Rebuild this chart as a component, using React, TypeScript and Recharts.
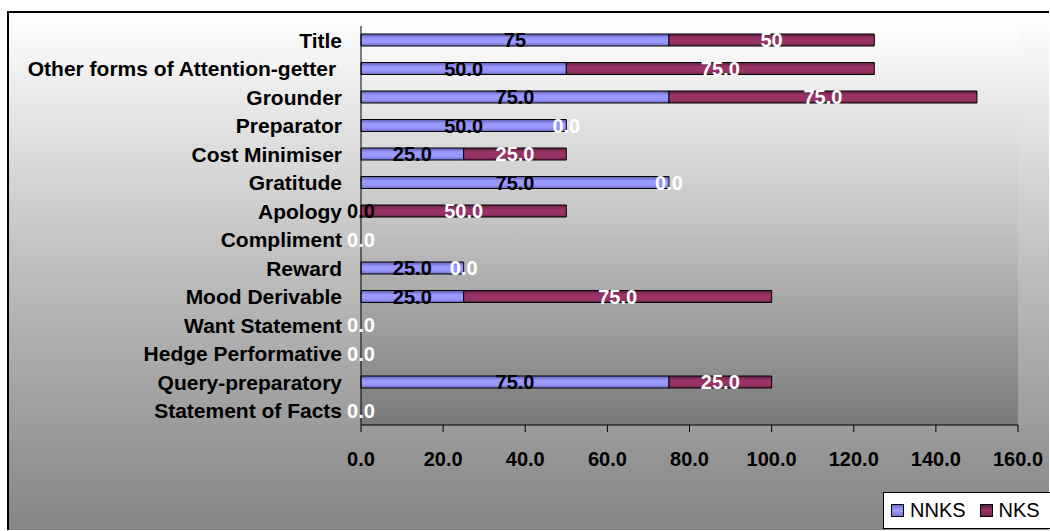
import React from "react";
import { BarChart, Bar, XAxis, YAxis, CartesianGrid, LabelList, ReferenceDot } from "recharts";

const categories = [
  "Title",
  "Other forms of Attention-getter ",
  "Grounder",
  "Preparator",
  "Cost Minimiser",
  "Gratitude",
  "Apology",
  "Compliment",
  "Reward",
  "Mood Derivable",
  "Want Statement",
  "Hedge Performative",
  "Query-preparatory",
  "Statement of Facts",
];
const nnksValues = [75, 50, 75, 50, 25, 75, 0, 0, 25, 25, 0, 0, 75, 0];
const nksValues = [50, 75, 75, 0, 25, 0, 50, 0, 0, 75, 0, 0, 25, 0];
const nnksLabelText = ["75", "50.0", "75.0", "50.0", "25.0", "75.0", "0.0", "0.0", "25.0", "25.0", "0.0", "0.0", "75.0", "0.0"];
const nksLabelText = ["50", "75.0", "75.0", "0.0", "25.0", "0.0", "50.0", "0.0", "0.0", "75.0", "0.0", "0.0", "25.0", "0.0"];
const seriesNames = ["NNKS", "NKS"];
const xTicks = [0, 20, 40, 60, 80, 100, 120, 140, 160];

const data = categories.map((c, i) => ({
  name: c,
  NNKS: nnksValues[i],
  NKS: nksValues[i],
  nnksLabel: nnksLabelText[i],
  nksLabel: nksLabelText[i],
}));

const FONT = "'Liberation Sans', Arial, sans-serif";
const LABEL_SIZE = 20;

const YTick = (props: any) => {
  const { x, y, payload } = props;
  return (
    <text
      x={x}
      y={y}
      dy="0.36em"
      textAnchor="end"
      fontFamily={FONT}
      fontWeight="bold"
      fontSize={21}
      fill="#000"
      style={{ whiteSpace: "pre" }}
    >
      {payload.value}
    </text>
  );
};

const XTick = (props: any) => {
  const { x, y, payload } = props;
  return (
    <text
      x={x}
      y={y}
      dy="0.71em"
      textAnchor="middle"
      fontFamily={FONT}
      fontWeight="bold"
      fontSize={20}
      fill="#000"
    >
      {Number(payload.value).toFixed(1)}
    </text>
  );
};

const colors = ["url(#gradBlue)", "url(#gradMaroon)"];
const legendSwatch = [
  "linear-gradient(#7070cc, #a0a0ff, #7777cc)",
  "linear-gradient(#5e1f3f, #993366, #6e2649)",
];

const zeroLabel = (text: string, fill: string) => ({
  value: text,
  position: "center" as const,
  fill,
  fontFamily: FONT,
  fontWeight: "bold",
  fontSize: LABEL_SIZE,
});

export default function App() {
  return (
    <div
      style={{
        position: "fixed",
        left: 7,
        top: 11,
        width: 1040,
        height: 517,
        border: "2px solid #000",
        borderRight: "none",
        borderBottom: "none",
        background: "linear-gradient(to bottom, #ffffff 0%, #bdbdbd 50%, #858585 100%)",
        fontFamily: FONT,
      }}
    >
      <div style={{ position: "absolute", left: 0, top: 0 }}>
        <BarChart
          width={1040}
          height={517}
          data={data}
          layout="vertical"
          margin={{ top: 13, right: 31, bottom: 65, left: 0 }}
          barCategoryGap={0}
          barSize={12}
        >
          <defs>
            <linearGradient id="plotGrad" x1="0" y1="0" x2="0" y2="1">
              <stop offset="0%" stopColor="#ffffff" />
              <stop offset="50%" stopColor="#c2c2c2" />
              <stop offset="100%" stopColor="#7a7a7a" />
            </linearGradient>
            <linearGradient id="gradBlue" x1="0" y1="0" x2="0" y2="1">
              <stop offset="0%" stopColor="#5c5cad" />
              <stop offset="35%" stopColor="#9999ff" />
              <stop offset="70%" stopColor="#9999ff" />
              <stop offset="100%" stopColor="#6b6bbf" />
            </linearGradient>
            <linearGradient id="gradMaroon" x1="0" y1="0" x2="0" y2="1">
              <stop offset="0%" stopColor="#5e1f3f" />
              <stop offset="35%" stopColor="#993366" />
              <stop offset="70%" stopColor="#993366" />
              <stop offset="100%" stopColor="#6e2649" />
            </linearGradient>
          </defs>
          <CartesianGrid horizontal={false} vertical={false} fill="url(#plotGrad)" stroke="none" />
          <XAxis
            type="number"
            domain={[0, 160]}
            ticks={xTicks}
            interval={0}
            axisLine={{ stroke: "#000", strokeWidth: 1 }}
            tickLine={{ stroke: "#000", strokeWidth: 1 }}
            tickSize={7}
            tickMargin={20}
            tick={<XTick />}
            height={40}
          />
          <YAxis
            type="category"
            dataKey="name"
            width={352}
            axisLine={{ stroke: "#000", strokeWidth: 1 }}
            tickLine={false}
            tickSize={0}
            tickMargin={19}
            interval={0}
            tick={<YTick />}
          />
          <Bar dataKey="NNKS" stackId="a" fill={colors[0]} stroke="#000" strokeWidth={1} isAnimationActive={false}>
            <LabelList
              dataKey="nnksLabel"
              position="center"
              fill="#000"
              fontFamily={FONT}
              fontWeight="bold"
              fontSize={LABEL_SIZE}
            />
          </Bar>
          <Bar dataKey="NKS" stackId="a" fill={colors[1]} stroke="#000" strokeWidth={1} isAnimationActive={false}>
            <LabelList
              dataKey="nksLabel"
              position="center"
              fill="#fff"
              fontFamily={FONT}
              fontWeight="bold"
              fontSize={LABEL_SIZE}
            />
          </Bar>
          {data.map((d, i) =>
            d.NNKS === 0 && d.NKS !== 0 ? (
              <ReferenceDot
                key={"z1-" + i}
                x={0}
                y={d.name}
                r={0}
                fill="none"
                stroke="none"
                ifOverflow="visible"
                label={zeroLabel(d.nnksLabel, "#000")}
              />
            ) : null
          )}
          {data.map((d, i) =>
            d.NKS === 0 ? (
              <ReferenceDot
                key={"z2-" + i}
                x={d.NNKS}
                y={d.name}
                r={0}
                fill="none"
                stroke="none"
                ifOverflow="visible"
                label={zeroLabel(d.nksLabel, "#fff")}
              />
            ) : null
          )}
        </BarChart>
      </div>
      <div
        style={{
          position: "absolute",
          left: 874,
          top: 479,
          width: 170,
          height: 35,
          background: "#fff",
          border: "1px solid #000",
          display: "flex",
          alignItems: "center",
          fontSize: 20,
          lineHeight: "35px",
          color: "#000",
        }}
      >
        {seriesNames.map((n, i) => (
          <div key={n} style={{ display: "flex", alignItems: "center", marginLeft: i === 0 ? 7 : 14 }}>
            <div
              style={{
                width: 11,
                height: 11,
                border: "1px solid #000",
                background: legendSwatch[i],
                marginRight: 6,
              }}
            />
            <span>{n}</span>
          </div>
        ))}
      </div>
    </div>
  );
}
